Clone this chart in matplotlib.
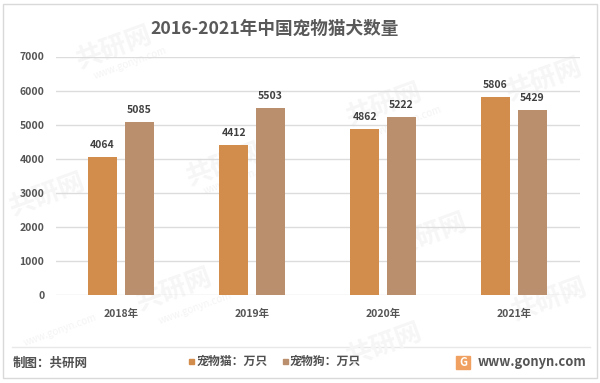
import numpy as np
import matplotlib
matplotlib.use('Agg')
import matplotlib.pyplot as plt
from matplotlib.patches import Rectangle

plt.rcParams['font.family'] = ['Noto Sans CJK SC', 'DejaVu Sans']

years = ['2018年', '2019年', '2020年', '2021年']
cats = [4064, 4412, 4862, 5806]
dogs = [5085, 5503, 5222, 5429]
yticks = [0, 1000, 2000, 3000, 4000, 5000, 6000, 7000]
title = '2016-2021年中国宠物猫犬数量'
names = ['宠物猫：万只', '宠物狗：万只']

W, H = 600, 383
CAT_COLOR = '#d28d4c'
DOG_COLOR = '#b98f6d'
fig = plt.figure(figsize=(W / 100, H / 100), dpi=100, facecolor='white')

# full figure overlay in pixel coordinates (y down)
bg = fig.add_axes([0, 0, 1, 1], zorder=0)
bg.set_xlim(0, W)
bg.set_ylim(H, 0)
bg.axis('off')

# pale watermarks behind the chart
for px, py in [(115, 48), (225, 165), (385, 105), (545, 80), (175, 290), (430, 235), (385, 345), (48, 195), (550, 300)]:
    bg.text(px, py, '共研网', fontsize=19, fontweight='bold', color='#f6f6f6',
            rotation=20, ha='center', va='center')
for px, py in [(130, 63), (240, 178), (405, 122), (195, 308), (60, 330)]:
    bg.text(px, py, 'www.gonyn.com', fontsize=7, color='#f4f4f4',
            rotation=20, ha='center', va='center')

# outer frame and footer line
bg.add_patch(Rectangle((3, 4), 594, 374, fill=False, edgecolor='#d9d9d9', lw=1))
bg.plot([12, 590], [347, 347], color='#e8e8e8', lw=1)

ax = fig.add_axes([55.5 / W, 1 - 295 / H, 524 / W, (295 - 56.5) / H], zorder=1)
ax.patch.set_alpha(0)

x = np.arange(len(years))
w = 0.225
off = 0.141
b1 = ax.bar(x - off, cats, w, color=CAT_COLOR, zorder=2)
b2 = ax.bar(x + off, dogs, w, color=DOG_COLOR, zorder=2)
ax.bar_label(b1, padding=5, fontsize=7.5, fontweight='bold', color='#404040')
ax.bar_label(b2, padding=5, fontsize=7.5, fontweight='bold', color='#404040')

ax.set_xlim(-0.5, 3.5)
ax.set_ylim(0, 7000)
ax.set_yticks(yticks)
ax.set_xticks(x)
ax.set_xticklabels(years, fontsize=7.5, fontweight='bold', color='#555555')
ax.tick_params(axis='y', length=0, pad=8, labelsize=7.5, labelcolor='#555555')
ax.tick_params(axis='x', length=0, pad=10)
for lab in ax.get_yticklabels():
    lab.set_fontweight('bold')
ax.grid(axis='y', color='#dcdcdc', lw=1, zorder=0)
ax.set_axisbelow(True)
for s in ax.spines.values():
    s.set_visible(False)

# top overlay: title and footer
top = fig.add_axes([0, 0, 1, 1], zorder=2)
top.set_xlim(0, W)
top.set_ylim(H, 0)
top.axis('off')
top.text(275, 29, title, fontsize=12.7, fontweight='bold', color='#595959', ha='center', va='center')
top.text(13, 363, '制图：共研网', fontsize=9, fontweight='bold', color='#505050', va='center')

top.add_patch(Rectangle((188.5, 358.5), 5, 5, color=CAT_COLOR))
top.text(197, 361, names[0], fontsize=8.6, fontweight='bold', color='#505050', va='center')
top.add_patch(Rectangle((282.5, 358.5), 5, 5, color=DOG_COLOR))
top.text(290, 361, names[1], fontsize=8.6, fontweight='bold', color='#505050', va='center')

top.add_patch(Rectangle((456, 356), 14, 13, color='#f0a060'))
top.text(463, 362.5, 'G', fontsize=8, fontweight='bold', color='white', ha='center', va='center')
top.text(478, 362, 'www.gonyn.com', fontsize=9.3, fontweight='bold', color='#555555', va='center')

fig.savefig('out.png', dpi=100)
